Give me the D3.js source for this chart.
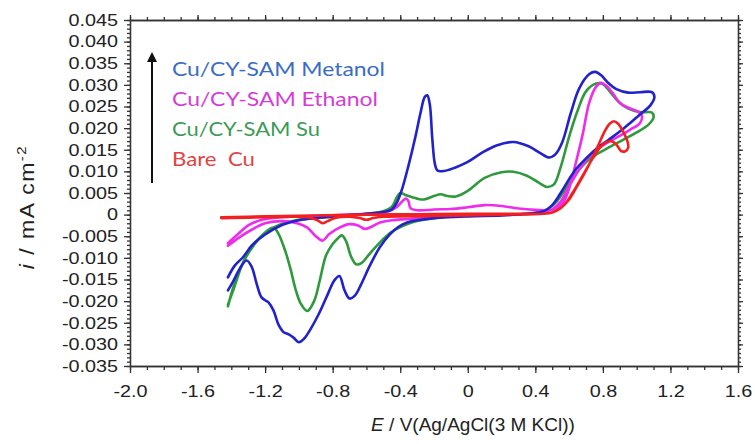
<!DOCTYPE html>
<html><head><meta charset="utf-8">
<script src="https://cdn.jsdelivr.net/npm/d3@7"></script>
<style>body{margin:0;background:#fff}svg{display:block}</style>
</head><body><svg id="c" width="755" height="444"></svg>
<script>
// ---------- data (E / V, i / mA cm^-2), each loop in scan order ----------
const metanol = [
[-1.42,-0.0145],[-1.38,-0.0118],[-1.33,-0.0098],[-1.28,-0.0072],[-1.2,-0.0046],[-1.1,-0.0024],[-1.0,-0.0013],[-0.8,-0.0004],[-0.6,0.0002],[-0.5,0.0006],[-0.45,0.0012],[-0.42,0.0028],[-0.39,0.0058],[-0.35,0.0115],[-0.31,0.0180],[-0.28,0.0235],[-0.255,0.0272],[-0.24,0.0276],[-0.225,0.0255],[-0.21,0.0175],[-0.195,0.0118],[-0.18,0.0102],[-0.14,0.0101],[-0.08,0.0108],[0.0,0.0122],[0.08,0.0142],[0.17,0.0160],[0.27,0.0168],[0.36,0.0158],[0.43,0.0142],[0.48,0.0132],[0.52,0.0140],[0.56,0.0168],[0.61,0.0235],[0.66,0.0292],[0.72,0.0325],[0.755,0.0330],[0.79,0.0322],[0.83,0.0305],[0.88,0.0290],[0.95,0.0282],[1.02,0.0283],[1.09,0.0283],[1.105,0.0272],[1.08,0.0252],[1.03,0.0235],[0.97,0.0215],[0.9,0.0192],[0.83,0.0172],[0.76,0.0152],[0.7,0.0130],[0.64,0.0105],[0.6,0.0082],[0.55,0.0050],[0.5,0.0022],[0.45,0.0008],[0.35,0.0002],[0.2,-0.0002],[0.0,-0.0004],[-0.2,-0.0008],[-0.3,-0.0013],[-0.36,-0.0018],[-0.41,-0.0028],[-0.46,-0.0045],[-0.52,-0.0075],[-0.58,-0.0118],[-0.63,-0.0160],[-0.67,-0.0188],[-0.7,-0.0194],[-0.73,-0.0175],[-0.76,-0.0142],[-0.79,-0.0152],[-0.83,-0.0185],[-0.88,-0.0228],[-0.93,-0.0264],[-0.97,-0.0287],[-1.0,-0.0295],[-1.03,-0.0285],[-1.06,-0.0277],[-1.09,-0.0272],[-1.12,-0.0255],[-1.15,-0.0222],[-1.18,-0.0203],[-1.22,-0.0192],[-1.25,-0.0160],[-1.28,-0.0120],[-1.31,-0.0106],[-1.35,-0.0125],[-1.39,-0.0155],[-1.42,-0.0175]
];
const ethanol = [
[-1.42,-0.0066],[-1.36,-0.0045],[-1.3,-0.0025],[-1.22,-0.0012],[-1.1,-0.0006],[-0.9,-0.0003],[-0.7,0.0000],[-0.55,0.0003],[-0.47,0.0008],[-0.42,0.0018],[-0.39,0.0030],[-0.365,0.0037],[-0.35,0.0030],[-0.34,0.0015],[-0.3,0.0010],[-0.2,0.0012],[-0.1,0.0013],[0.0,0.0017],[0.1,0.0022],[0.2,0.0020],[0.3,0.0014],[0.4,0.0011],[0.5,0.0011],[0.56,0.0025],[0.6,0.0060],[0.64,0.0120],[0.68,0.0185],[0.72,0.0260],[0.76,0.0296],[0.79,0.0305],[0.82,0.0298],[0.86,0.0280],[0.9,0.0258],[0.95,0.0247],[1.0,0.0240],[1.03,0.0230],[1.02,0.0212],[0.96,0.0196],[0.88,0.0178],[0.8,0.0160],[0.72,0.0135],[0.65,0.0098],[0.6,0.0065],[0.55,0.0030],[0.5,0.0012],[0.4,0.0003],[0.2,0.0000],[0.0,-0.0002],[-0.2,-0.0005],[-0.35,-0.0010],[-0.45,-0.0013],[-0.52,-0.0018],[-0.57,-0.0028],[-0.61,-0.0033],[-0.65,-0.0025],[-0.7,-0.0022],[-0.76,-0.0030],[-0.82,-0.0045],[-0.86,-0.0060],[-0.9,-0.0050],[-0.95,-0.0030],[-1.01,-0.0020],[-1.1,-0.0015],[-1.2,-0.0020],[-1.28,-0.0035],[-1.35,-0.0052],[-1.42,-0.0072]
];
const su = [
[-1.42,-0.0208],[-1.38,-0.0165],[-1.33,-0.0110],[-1.27,-0.0070],[-1.2,-0.0042],[-1.13,-0.0026],[-1.0,-0.0012],[-0.8,-0.0005],[-0.6,0.0002],[-0.5,0.0008],[-0.45,0.0018],[-0.42,0.0040],[-0.40,0.0050],[-0.36,0.0044],[-0.3,0.0037],[-0.26,0.0035],[-0.2,0.0043],[-0.16,0.0047],[-0.12,0.0043],[-0.07,0.0042],[0.0,0.0055],[0.1,0.0085],[0.2,0.0098],[0.27,0.0099],[0.35,0.0090],[0.42,0.0074],[0.47,0.0064],[0.51,0.0070],[0.55,0.0110],[0.6,0.0180],[0.65,0.0240],[0.7,0.0285],[0.76,0.0303],[0.8,0.0302],[0.84,0.0285],[0.89,0.0262],[0.95,0.0245],[1.02,0.0237],[1.09,0.0236],[1.1,0.0225],[1.07,0.0208],[1.0,0.0190],[0.92,0.0173],[0.82,0.0152],[0.72,0.0128],[0.64,0.0095],[0.58,0.0060],[0.53,0.0032],[0.47,0.0012],[0.38,0.0003],[0.2,-0.0001],[0.0,-0.0003],[-0.2,-0.0008],[-0.3,-0.0015],[-0.38,-0.0025],[-0.45,-0.0040],[-0.52,-0.0064],[-0.58,-0.0090],[-0.63,-0.0112],[-0.66,-0.0115],[-0.69,-0.0098],[-0.72,-0.0062],[-0.745,-0.0048],[-0.77,-0.0055],[-0.8,-0.0068],[-0.84,-0.0095],[-0.875,-0.0150],[-0.91,-0.0200],[-0.95,-0.0223],[-0.99,-0.0205],[-1.02,-0.0172],[-1.05,-0.0125],[-1.08,-0.0085],[-1.12,-0.0045],[-1.15,-0.0030],[-1.19,-0.0038],[-1.25,-0.0062],[-1.32,-0.0103],[-1.38,-0.0158],[-1.42,-0.0212]
];
const bareCu = [
[-1.46,-0.0006],[-1.2,-0.0004],[-0.9,-0.0002],[-0.6,0.0000],[-0.3,0.0001],[0.0,0.0002],[0.3,0.0002],[0.45,0.0002],[0.5,0.0005],[0.55,0.0015],[0.6,0.0035],[0.645,0.0064],[0.69,0.0095],[0.73,0.0125],[0.77,0.0158],[0.81,0.0192],[0.84,0.0210],[0.865,0.0216],[0.89,0.0210],[0.92,0.0192],[0.945,0.0170],[0.95,0.0155],[0.93,0.0146],[0.905,0.0148],[0.88,0.0162],[0.85,0.0170],[0.8,0.0162],[0.74,0.0130],[0.68,0.0090],[0.62,0.0050],[0.57,0.0022],[0.52,0.0008],[0.45,0.0002],[0.2,0.0000],[-0.2,-0.0003],[-0.5,-0.0005],[-0.56,-0.0008],[-0.6,-0.0012],[-0.64,-0.0008],[-0.7,-0.0005],[-0.78,-0.0007],[-0.83,-0.0015],[-0.86,-0.0020],[-0.89,-0.0013],[-0.95,-0.0006],[-1.2,-0.0006],[-1.46,-0.0008]
];
const seriesNames = ["Cu/CY-SAM Metanol","Cu/CY-SAM Ethanol","Cu/CY-SAM Su","Bare  Cu"];
const xTickValues = [-2.0,-1.6,-1.2,-0.8,-0.4,0,0.4,0.8,1.2,1.6];
const xTickLabels = ["-2.0","-1.6","-1.2","-0.8","-0.4","0","0.4","0.8","1.2","1.6"];
const yTickValues = [-0.035,-0.030,-0.025,-0.020,-0.015,-0.010,-0.005,0,0.005,0.010,0.015,0.020,0.025,0.030,0.035,0.040,0.045];
const yTickLabels = ["-0.035","-0.030","-0.025","-0.020","-0.015","-0.010","-0.005","0","0.005","0.010","0.015","0.020","0.025","0.030","0.035","0.040","0.045"];

// ---------- layout ----------
const svg = d3.select("#c");
const L = 130, R = 738, T = 20, B = 366;
const x = d3.scaleLinear().domain([-2.0, 1.6]).range([L, R]);
const y = d3.scaleLinear().domain([-0.035, 0.045]).range([B, T]);
const axisColor = "#333";
const tickFont = "'Liberation Sans', Arial, sans-serif";
const SX = 1.2;

svg.append("rect").attr("width",755).attr("height",444).attr("fill","#fff");

// minor ticks
const xMinor = d3.range(-2.0, 1.6001, 0.1);
const yMinor = d3.range(-0.035, 0.04501, 0.001);
function styleAxis(g){ g.selectAll("path,line").attr("stroke", axisColor).attr("stroke-width",1.3); }

svg.append("g").attr("transform",`translate(0,${B})`)
  .call(d3.axisBottom(x).tickValues(xMinor).tickSize(4).tickFormat("").tickSizeOuter(0)).call(styleAxis);
svg.append("g").attr("transform",`translate(${L},0)`)
  .call(d3.axisLeft(y).tickValues(yMinor).tickSize(3).tickFormat("").tickSizeOuter(0)).call(styleAxis);
svg.append("g").attr("transform",`translate(0,${T})`)
  .call(d3.axisTop(x).tickValues(xMinor).tickSize(3).tickFormat("").tickSizeOuter(0)).call(styleAxis);
svg.append("g").attr("transform",`translate(${R},0)`)
  .call(d3.axisRight(y).tickValues(yMinor).tickSize(3).tickFormat("").tickSizeOuter(0)).call(styleAxis);

// major ticks + labels
const gx = svg.append("g").attr("transform",`translate(0,${B})`)
  .call(d3.axisBottom(x).tickValues(xTickValues).tickSize(7).tickPadding(12).tickSizeOuter(0)
    .tickFormat((d,i)=>xTickLabels[i])).call(styleAxis);
gx.selectAll("text").attr("font-family",tickFont).attr("font-size",16.5).attr("fill","#222")
  .attr("transform",`scale(${SX},1)`);
const gy = svg.append("g").attr("transform",`translate(${L},0)`)
  .call(d3.axisLeft(y).tickValues(yTickValues).tickSize(6).tickPadding(4).tickSizeOuter(0)
    .tickFormat((d,i)=>yTickLabels[i])).call(styleAxis);
gy.selectAll("text").attr("font-family",tickFont).attr("font-size",16.5).attr("fill","#222")
  .attr("transform",`scale(${SX},1)`);
svg.append("g").attr("transform",`translate(${R},0)`)
  .call(d3.axisRight(y).tickValues(yTickValues).tickSize(5).tickFormat("").tickSizeOuter(0)).call(styleAxis);
svg.append("g").attr("transform",`translate(0,${T})`)
  .call(d3.axisTop(x).tickValues(xTickValues).tickSize(5).tickFormat("").tickSizeOuter(0)).call(styleAxis);

// axis titles
const xt = svg.append("text").attr("x",473).attr("y",431).attr("text-anchor","middle")
  .attr("font-family",tickFont).attr("font-size",19).attr("fill","#222");
xt.append("tspan").attr("font-style","italic").text("E");
xt.append("tspan").text(" / V(Ag/AgCl(3 M KCl))");

const yt = svg.append("text").attr("transform","translate(34,207) scale(0.85,1) rotate(-90)").attr("text-anchor","middle")
  .attr("font-family",tickFont).attr("font-size",23).attr("fill","#222")
  .attr("letter-spacing",1.5);
yt.append("tspan").attr("font-style","italic").text("i");
yt.append("tspan").text(" / mA cm");
yt.append("tspan").attr("font-size",15).attr("dy",-10).text("-2");

// curves
const line = d3.line().x(d=>x(d[0])).y(d=>y(d[1])).curve(d3.curveCatmullRom.alpha(0.5));
const curves = [
  {data: su, color:"#2f9a3c"},
  {data: ethanol, color:"#ee2cee"},
  {data: metanol, color:"#2222cc"},
  {data: bareCu, color:"#f22020"}
];
svg.append("g").selectAll("path").data(curves).join("path")
  .attr("d", d=>line(d.data)).attr("fill","none").attr("stroke", d=>d.color)
  .attr("stroke-width",2.6).attr("stroke-linejoin","round").attr("stroke-linecap","round");

// legend
const legColors = ["#3b6cc4","#d43cd6","#3b9a55","#e2433f"];
const legWidths = [213,206,148,83];
const lg = svg.append("g");
lg.selectAll("text").data(seriesNames).join("text")
  .attr("x",172).attr("y",(d,i)=>76 + i*30)
  .attr("font-family","Lato, 'Open Sans', sans-serif").attr("font-size",19)
  .attr("fill",(d,i)=>legColors[i])
  .attr("textLength",(d,i)=>legWidths[i]).attr("lengthAdjust","spacingAndGlyphs")
  .attr("xml:space","preserve").style("white-space","pre")
  .text(d=>d);
lg.append("line").attr("x1",152).attr("x2",152).attr("y1",183).attr("y2",60)
  .attr("stroke","#111").attr("stroke-width",2);
lg.append("path").attr("d","M147,62 L152,52 L157,62 Z").attr("fill","#111");
</script></body></html>
